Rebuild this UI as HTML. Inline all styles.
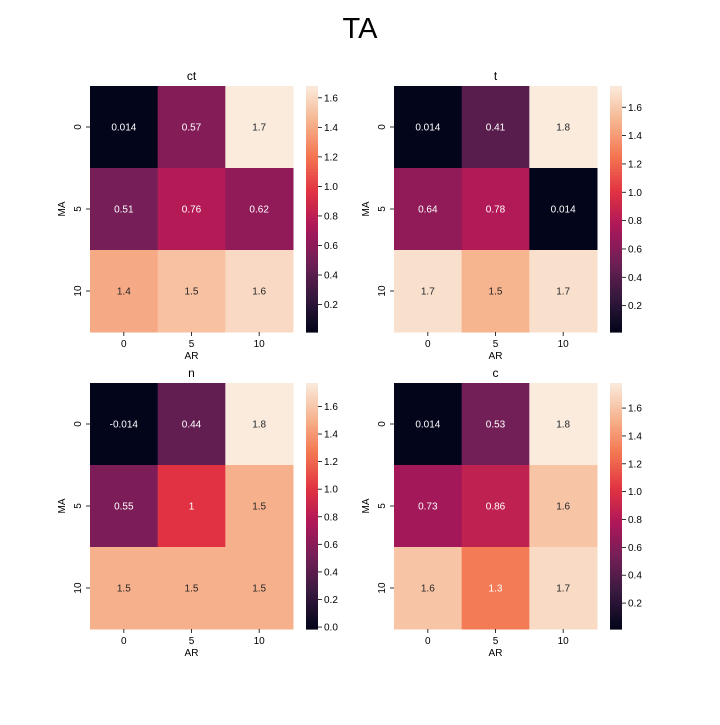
<!DOCTYPE html>
<html><head><meta charset="utf-8"><style>
body{margin:0;background:#fff;}
svg text{font-family:"Liberation Sans","DejaVu Sans",sans-serif;}
</style></head><body>
<svg id="fig" width="720" height="720" viewBox="0 0 720 720" xmlns="http://www.w3.org/2000/svg">
<rect width="720" height="720" fill="#fff"/>
<text x="360" y="38" font-size="29" text-anchor="middle" fill="#000">TA</text>
</svg>
<script>
const panelTitles = ['ct','t','n','c'];
const xCategories = ['0','5','10'];
const yCategories = ['0','5','10'];
const valuesCt = [[0.014,0.57,1.68],[0.51,0.76,0.62],[1.4,1.5,1.6]];
const valuesT = [[0.014,0.41,1.75],[0.64,0.78,0.014],[1.7,1.5,1.7]];
const valuesN = [[-0.014,0.44,1.77],[0.55,1.0,1.5],[1.5,1.5,1.5]];
const valuesC = [[0.014,0.53,1.78],[0.73,0.86,1.6],[1.6,1.3,1.7]];
const ticksCt = [0.2,0.4,0.6,0.8,1.0,1.2,1.4,1.6];
const ticksT = [0.2,0.4,0.6,0.8,1.0,1.2,1.4,1.6];
const ticksN = [0.0,0.2,0.4,0.6,0.8,1.0,1.2,1.4,1.6];
const ticksC = [0.2,0.4,0.6,0.8,1.0,1.2,1.4,1.6];

const NS='http://www.w3.org/2000/svg';
const svg=document.getElementById('fig');
const stops=[[0,[3,5,26]],[0.143,[53,25,62]],[0.286,[112,31,87]],[0.429,[173,23,89]],[0.571,[225,51,66]],[0.714,[243,118,81]],[0.857,[246,180,143]],[1,[250,235,221]]];
function rocket(t){t=Math.max(0,Math.min(1,t));for(let i=1;i<stops.length;i++){if(t<=stops[i][0]){const a=stops[i-1],b=stops[i];const f=(t-a[0])/(b[0]-a[0]);return a[1].map((c,k)=>Math.round(c+(b[1][k]-c)*f));}}return stops[stops.length-1][1];}
function mk(tag,attrs,parent){const e=document.createElementNS(NS,tag);for(const k in attrs)e.setAttribute(k,attrs[k]);(parent||svg).appendChild(e);return e;}
function fmt(v){return Number(v.toPrecision(2)).toString();}
function lum(c){const l=c.map(x=>{x/=255;return x<=0.03928?x/12.92:Math.pow((x+0.055)/1.055,2.4)});return 0.2126*l[0]+0.7152*l[1]+0.0722*l[2];}

function panel(px,py,title,vals,ticks){
  const W=203,H=246,cw=W/3,ch=H/3;
  const flat=vals.flat();const vmin=Math.min(...flat),vmax=Math.max(...flat);
  const g=mk('g',{});
  
  
  const t=mk('text',{x:px+W/2,y:py-6,'font-size':12,'text-anchor':'middle',fill:'#000'},g);t.textContent=title;
  
  
  vals.forEach((row,r)=>row.forEach((v,c)=>{
    const col=rocket((v-vmin)/(vmax-vmin));
    const rc=mk('rect',{x:px+c*cw,y:py+r*ch,width:cw+0.5,height:ch+0.5,fill:'rgb('+col.join(',')+')'},g);
    
    
    const tx=mk('text',{x:px+c*cw+cw/2,y:py+r*ch+ch/2+3.5,'font-size':10,'text-anchor':'middle',fill:lum(col)>0.408?'#262626':'#fff'},g);
    tx.textContent=fmt(v);
    
    
  }));
  xCategories.forEach((lab,i)=>{const x=px+i*cw+cw/2;mk('line',{x1:x,x2:x,y1:py+H,y2:py+H+4,stroke:'#000','stroke-width':0.8},g);
    const tt=mk('text',{x:x,y:py+H+15,'font-size':10,'text-anchor':'middle',fill:'#000'},g);tt.textContent=lab;
    
    });
  yCategories.forEach((lab,i)=>{const y=py+i*ch+ch/2;mk('line',{x1:px-4,x2:px,y1:y,y2:y,stroke:'#000','stroke-width':0.8},g);
    const tt=mk('text',{x:px-9,y:y,'font-size':10,'text-anchor':'middle',fill:'#000',transform:'rotate(-90 '+(px-9)+' '+y+')'},g);tt.textContent=lab;
    
    });
  const xl=mk('text',{x:px+W/2,y:py+H+27,'font-size':10,'text-anchor':'middle',fill:'#000'},g);xl.textContent='AR';
  
  
  const yx=px-25,yy=py+H/2;
  const yl=mk('text',{x:yx,y:yy,'font-size':10,'text-anchor':'middle',fill:'#000',transform:'rotate(-90 '+yx+' '+yy+')'},g);yl.textContent='MA';
  
  
  const cx=px+216,cwid=12,n=80;
  for(let i=0;i<n;i++){const col=rocket(1-(i+0.5)/n);mk('rect',{x:cx,y:py+i*H/n,width:cwid,height:H/n+0.6,fill:'rgb('+col.join(',')+')'},g);}
  const cy=v=>py+H*(vmax-v)/(vmax-vmin);
  ticks.forEach(v=>{const y=cy(v);mk('line',{x1:cx+cwid,x2:cx+cwid+4,y1:y,y2:y,stroke:'#000','stroke-width':0.8},g);
    const tt=mk('text',{x:cx+cwid+6,y:y+3.5,'font-size':10,fill:'#000'},g);tt.textContent=v.toFixed(1);
    
    });
}
panel(90,86,panelTitles[0],valuesCt,ticksCt);
panel(394,86,panelTitles[1],valuesT,ticksT);
panel(90,383,panelTitles[2],valuesN,ticksN);
panel(394,383,panelTitles[3],valuesC,ticksC);
</script>
</body></html>
